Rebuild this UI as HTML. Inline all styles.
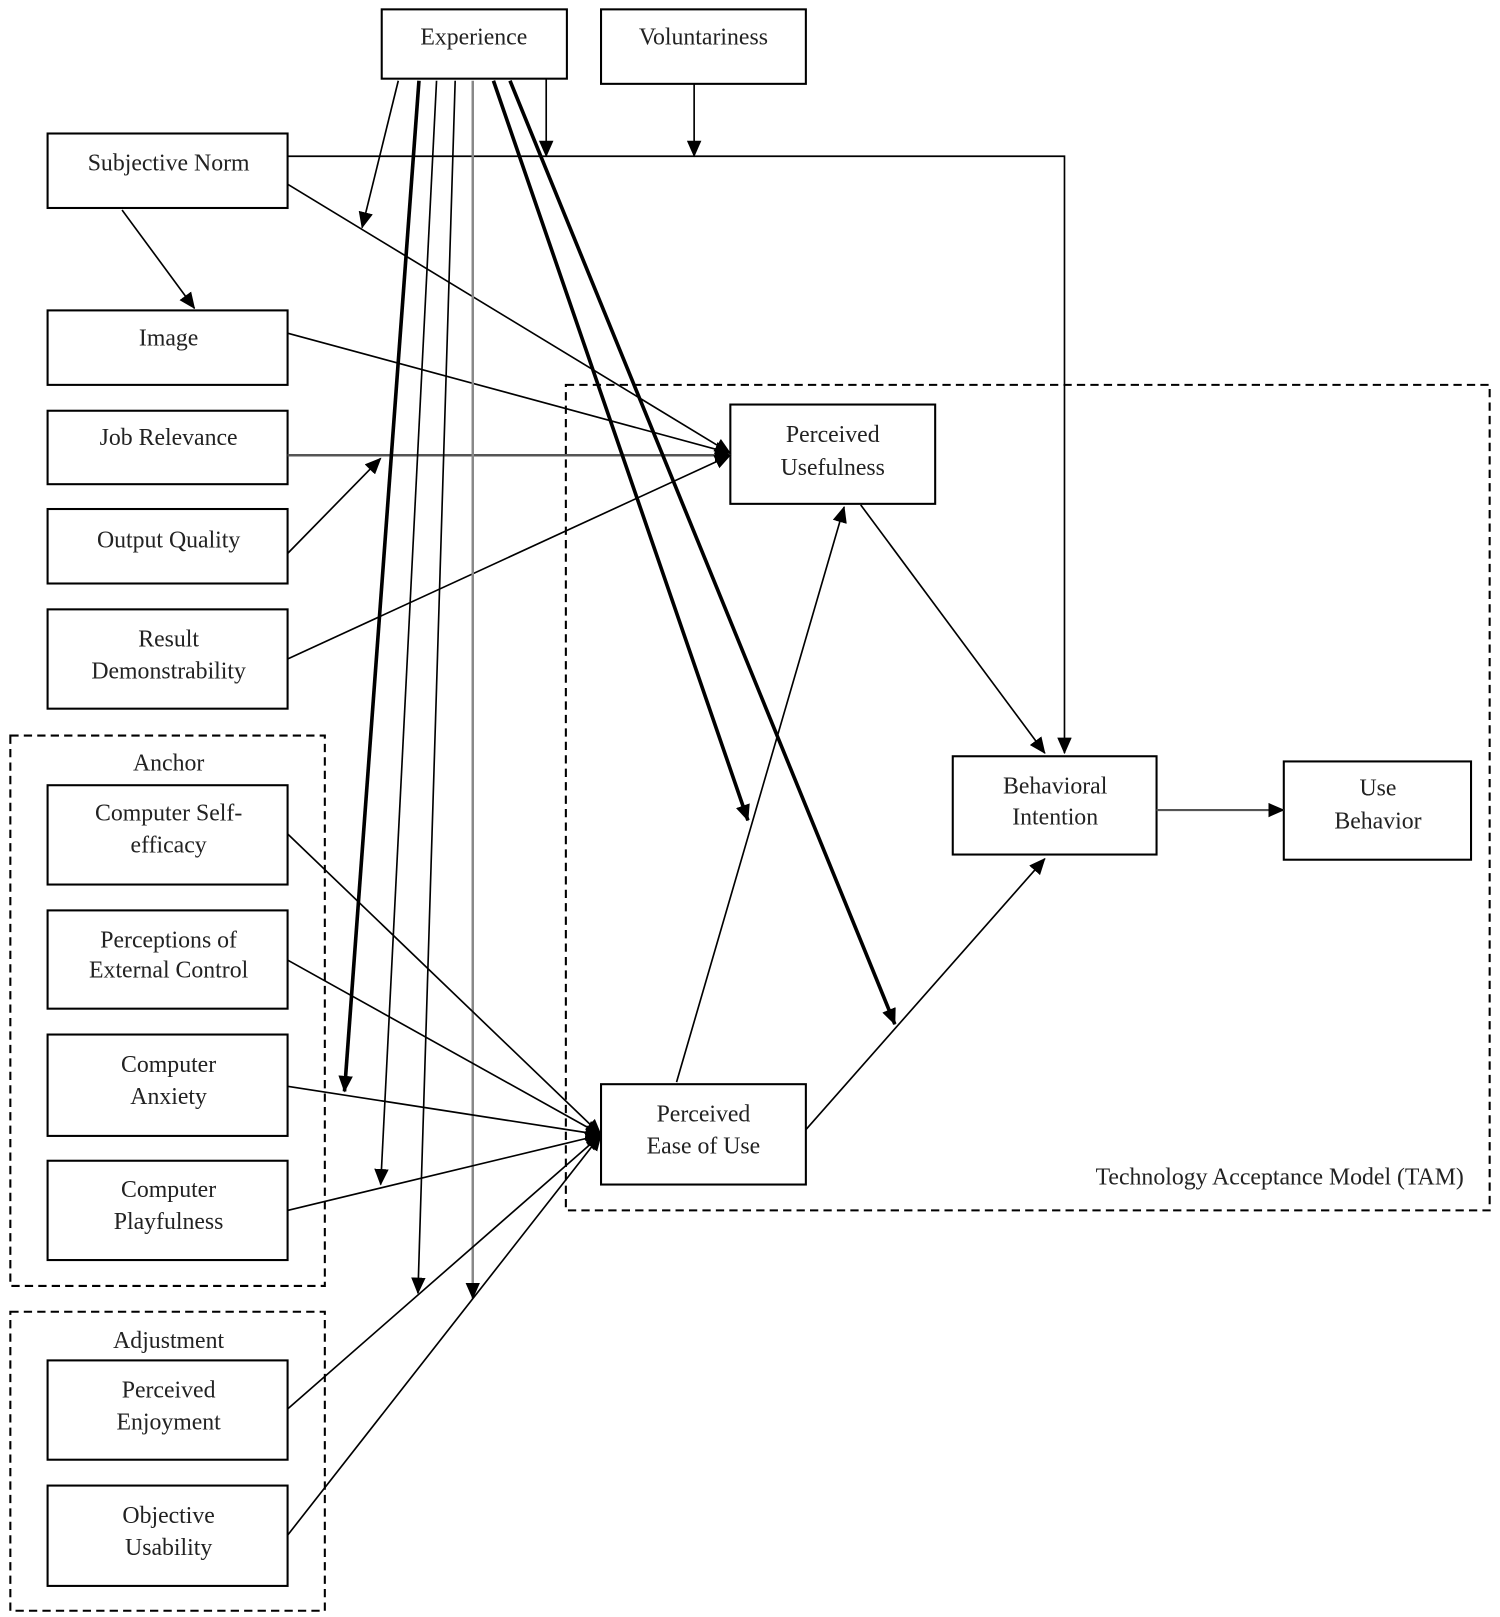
<!DOCTYPE html>
<html><head><meta charset="utf-8"><style>
html,body{margin:0;padding:0;background:#fff}
svg{display:block}
text{font-family:"Liberation Serif",serif;font-size:23px;fill:#222;text-anchor:middle}
</style></head><body>
<svg width="1500" height="1617" viewBox="0 0 1450 1563" xmlns="http://www.w3.org/2000/svg">
<defs>
<marker id="a" markerWidth="10" markerHeight="10" refX="9" refY="5" orient="auto" markerUnits="userSpaceOnUse" viewBox="0 0 10 10"><path d="M0,0 L10,5 L0,10 z" fill="#000"/></marker>
<marker id="b" markerWidth="16" markerHeight="14" refX="15" refY="7" orient="auto" markerUnits="userSpaceOnUse" viewBox="0 0 16 14"><path d="M0,0 L16,7 L0,14 z" fill="#000"/></marker>
</defs>
<g fill="none" stroke="#000" stroke-width="2" stroke-dasharray="8,5">
<rect x="547" y="372" width="893" height="798"/>
<rect x="10" y="711" width="304" height="532"/>
<rect x="10" y="1268" width="304" height="289"/>
</g>
<g fill="#fff" stroke="#000" stroke-width="2">
<rect x="369" y="9" width="179" height="67"/>
<rect x="581" y="9" width="198" height="72"/>
<rect x="46" y="129" width="232" height="72"/>
<rect x="46" y="300" width="232" height="72"/>
<rect x="46" y="397" width="232" height="71"/>
<rect x="46" y="492" width="232" height="72"/>
<rect x="46" y="589" width="232" height="96"/>
<rect x="46" y="759" width="232" height="96"/>
<rect x="46" y="880" width="232" height="95"/>
<rect x="46" y="1000" width="232" height="98"/>
<rect x="46" y="1122" width="232" height="96"/>
<rect x="46" y="1315" width="232" height="96"/>
<rect x="46" y="1436" width="232" height="97"/>
<rect x="706" y="391" width="198" height="96"/>
<rect x="581" y="1048" width="198" height="97"/>
<rect x="921" y="731" width="197" height="95"/>
<rect x="1241" y="736" width="181" height="95"/>
</g>
<g fill="none" stroke="#000" stroke-width="1.6">
<polyline points="278,151 1029,151 1029,728" marker-end="url(#b)"/>
<line x1="528" y1="76" x2="528" y2="151" marker-end="url(#b)"/>
<line x1="671" y1="81" x2="671" y2="151" marker-end="url(#b)"/>
<line x1="278" y1="178" x2="706" y2="438" marker-end="url(#b)"/>
<line x1="118" y1="203" x2="188" y2="298" marker-end="url(#b)"/>
<line x1="278" y1="322" x2="706" y2="438" marker-end="url(#b)"/>
<line x1="278" y1="440" x2="706" y2="440" stroke="#555" stroke-width="2.4" marker-end="url(#b)"/>
<line x1="278" y1="535" x2="368" y2="443" marker-end="url(#b)"/>
<line x1="278" y1="637" x2="706" y2="440" marker-end="url(#b)"/>
<line x1="385" y1="78" x2="350" y2="220" marker-end="url(#b)"/>
<line x1="405" y1="78" x2="333" y2="1055" stroke-width="3.5" marker-end="url(#b)"/>
<line x1="422" y1="78" x2="368" y2="1145" marker-end="url(#b)"/>
<line x1="440" y1="78" x2="404" y2="1250" marker-end="url(#b)"/>
<line x1="457" y1="78" x2="457" y2="1255" stroke="#888" stroke-width="2.4" marker-end="url(#b)"/>
<line x1="477" y1="78" x2="723" y2="793" stroke-width="3.5" marker-end="url(#b)"/>
<line x1="493" y1="78" x2="865" y2="990" stroke-width="3.5" marker-end="url(#b)"/>
<line x1="832" y1="488" x2="1010" y2="728" marker-end="url(#b)"/>
<line x1="654" y1="1046" x2="816" y2="490" marker-end="url(#b)"/>
<line x1="779" y1="1092" x2="1010" y2="830" marker-end="url(#b)"/>
<line x1="1118" y1="783" x2="1241" y2="783" stroke="#555" stroke-width="2" marker-end="url(#b)"/>
<line x1="278" y1="806" x2="581" y2="1097" marker-end="url(#b)"/>
<line x1="278" y1="928" x2="581" y2="1097" marker-end="url(#b)"/>
<line x1="278" y1="1050" x2="581" y2="1097" marker-end="url(#b)"/>
<line x1="278" y1="1170" x2="581" y2="1097" marker-end="url(#b)"/>
<line x1="278" y1="1362" x2="581" y2="1097" marker-end="url(#b)"/>
<line x1="278" y1="1484" x2="581" y2="1097" marker-end="url(#b)"/>
</g>
<text x="458" y="43">Experience</text>
<text x="680" y="43">Voluntariness</text>
<text x="163" y="165">Subjective Norm</text>
<text x="163" y="334">Image</text>
<text x="163" y="430">Job Relevance</text>
<text x="163" y="529">Output Quality</text>
<text x="163" y="625">Result</text>
<text x="163" y="656">Demonstrability</text>
<text x="163" y="745">Anchor</text>
<text x="163" y="793">Computer Self-</text>
<text x="163" y="824">efficacy</text>
<text x="163" y="916">Perceptions of</text>
<text x="163" y="945">External Control</text>
<text x="163" y="1036">Computer</text>
<text x="163" y="1067">Anxiety</text>
<text x="163" y="1157">Computer</text>
<text x="163" y="1188">Playfulness</text>
<text x="163" y="1303">Adjustment</text>
<text x="163" y="1351">Perceived</text>
<text x="163" y="1382">Enjoyment</text>
<text x="163" y="1472">Objective</text>
<text x="163" y="1503">Usability</text>
<text x="805" y="427">Perceived</text>
<text x="805" y="459">Usefulness</text>
<text x="680" y="1084">Perceived</text>
<text x="680" y="1115">Ease of Use</text>
<text x="1020" y="767">Behavioral</text>
<text x="1020" y="797">Intention</text>
<text x="1332" y="769">Use</text>
<text x="1332" y="801">Behavior</text>
<text x="1415" y="1145" style="text-anchor:end">Technology Acceptance Model (TAM)</text>
</svg>
</body></html>
